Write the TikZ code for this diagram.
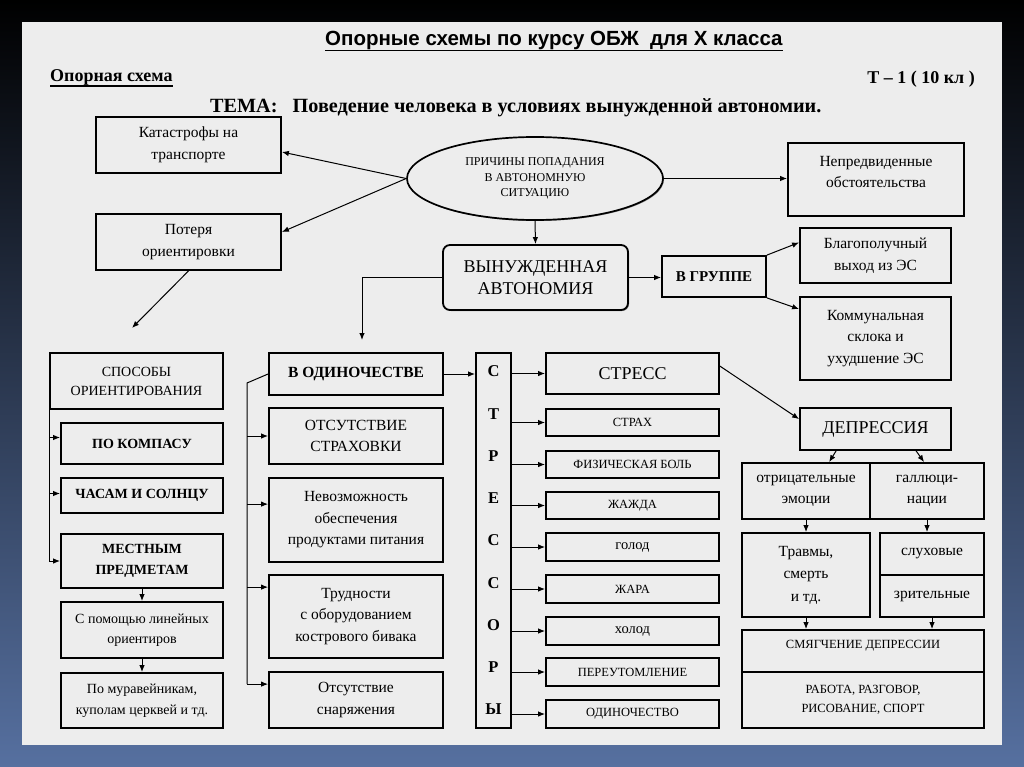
\documentclass[tikz,border=0pt]{standalone}
\usepackage{fontspec}
\setmainfont{Liberation Serif}
\newfontfamily\titlesans{Liberation Sans}
\usetikzlibrary{arrows.meta,calc,shapes.geometric,shadows}
\definecolor{pagecol}{HTML}{EDEDED}
\definecolor{bluebot}{HTML}{5670A0}
\newcommand\bx[7][]{\node[box,#1,minimum width={(#5-#3)*1pt},minimum height={(#6-#4)*1pt}] (#2) at ({(#3+#5)/2},{(#4+#6)/2}) {#7};}
\newcommand\upt[2]{\raisebox{#1}[\height][\depth]{\begin{tabular}{@{}c@{}}#2\end{tabular}}}
\tikzset{
  box/.style={draw, line width=1.8pt, fill=pagecol, align=center, inner sep=0pt,
    drop shadow={shadow xshift=1pt, shadow yshift=-1pt, fill=black, opacity=0.45}},
  arr/.style={line width=1pt, -{Latex[length=7pt,width=5.5pt]}},
  ln/.style={line width=1pt},
  ft/.style={font=\fontsize{15.5}{21.5}\selectfont},
  big/.style={font=\fontsize{18}{22}\selectfont},
  fb/.style={font=\bfseries\fontsize{15}{18}\selectfont},
  fc/.style={font=\fontsize{14}{19}\selectfont},
  fcb/.style={font=\bfseries\fontsize{14}{21}\selectfont},
  fs/.style={font=\fontsize{14}{20.5}\selectfont},
  sm/.style={font=\fontsize{12.5}{19}\selectfont},
  smb/.style={font=\fontsize{14.5}{19}\selectfont},
  stl/.style={font=\bfseries\fontsize{16.5}{42.25}\selectfont},
}
\begin{document}
\begin{tikzpicture}[x=1pt,y=-1pt]
\useasboundingbox (0,0) rectangle (1024,767);
\shade[top color=black, middle color=black, bottom color=bluebot] (0,0) rectangle (1024,767);
\fill[pagecol] (22,22) rectangle (1002,745);

% headings
\node[anchor=base west, inner sep=0, font=\titlesans\bfseries\fontsize{20.5}{24}\selectfont] (title) at (325,46) {Опорные схемы по курсу ОБЖ\ \ для Х класса};
\draw[line width=1.5pt] ($(title.base west)+(0,4.5)$) -- ($(title.base east)+(0,4.5)$);
\node[anchor=base west, inner sep=0, font=\bfseries\fontsize{18}{22}\selectfont] (oporn) at (50,82) {Опорная схема};
\draw[line width=1.3pt] ($(oporn.base west)+(0,4)$) -- ($(oporn.base east)+(0,4)$);
\node[anchor=base east, inner sep=0, font=\bfseries\fontsize{18}{22}\selectfont] (tnum) at (975,84) {Т – 1 ( 10 кл )};
\node[anchor=base west, inner sep=0, font=\bfseries\fontsize{20.2}{24}\selectfont] (tema) at (210,113) {ТЕМА:\hspace{0.75em}Поведение человека в условиях вынужденной автономии.};

% top part
\bx[ft]{kat}{96}{117}{281}{173}{Катастрофы на\\транспорте}
\bx[ft]{pot}{96}{214}{281}{270}{Потеря\\ориентировки}
\node[ellipse, draw, line width=1.7pt, fill=pagecol, minimum width=256pt, minimum height=83pt, inner sep=0pt, align=center,
  drop shadow={shadow xshift=1pt, shadow yshift=-1pt, fill=black, opacity=0.45},
  font=\fontsize{12}{15.5}\selectfont] (prich) at (535,178.5) {ПРИЧИНЫ ПОПАДАНИЯ\\В АВТОНОМНУЮ\\СИТУАЦИЮ};
\bx[ft]{nepr}{788}{143}{964}{216}{\upt{7pt}{Непредвиденные\\обстоятельства}}
\bx[big,rounded corners=7pt]{vyn}{443}{245}{628}{310}{ВЫНУЖДЕННАЯ\\АВТОНОМИЯ}
\bx[fb]{grp}{662}{256}{766}{297}{В ГРУППЕ}
\bx[ft]{blag}{800}{228}{951}{283}{Благополучный\\выход из ЭС}
\bx[ft]{komm}{800}{297}{951}{380}{Коммунальная\\склока и\\ухудшение ЭС}

% left column
\bx[fc]{spos}{50}{353}{223}{409}{СПОСОБЫ\\ОРИЕНТИРОВАНИЯ}
\bx[fcb]{komp}{61}{423}{223}{464}{ПО КОМПАСУ}
\bx[fcb]{chas}{61}{478}{223}{513}{ЧАСАМ И СОЛНЦУ}
\bx[fcb]{mest}{61}{534}{223}{588}{МЕСТНЫМ\\ПРЕДМЕТАМ}
\bx[fs]{lin}{61}{602}{223}{658}{С помощью линейных\\ориентиров}
\bx[fs]{mur}{61}{673}{223}{728}{По муравейникам,\\куполам церквей и тд.}

% second column
\bx[fb,font=\bfseries\fontsize{15.5}{18}\selectfont]{odin}{269}{353}{443}{395}{В ОДИНОЧЕСТВЕ}
\bx[ft]{strah}{269}{408}{443}{464}{ОТСУТСТВИЕ\\СТРАХОВКИ}
\bx[ft]{nevoz}{269}{478}{443}{562}{Невозможность\\обеспечения\\продуктами питания}
\bx[ft]{trud}{269}{575}{443}{658}{Трудности\\с оборудованием\\кострового бивака}
\bx[ft]{snar}{269}{672}{443}{728}{Отсутствие\\снаряжения}

% stressors
\bx[stl]{sts}{476}{353}{511}{728}{С\\Т\\Р\\Е\\С\\С\\О\\Р\\Ы}
\bx[big]{stress}{546}{353}{719}{394}{СТРЕСС}
\bx[sm]{s1}{546}{409}{719}{436}{СТРАХ}
\bx[sm]{s2}{546}{451}{719}{478}{ФИЗИЧЕСКАЯ БОЛЬ}
\bx[sm]{s3}{546}{492}{719}{519}{ЖАЖДА}
\bx[smb]{s4}{546}{533}{719}{561}{голод}
\bx[sm]{s5}{546}{575}{719}{603}{ЖАРА}
\bx[smb]{s6}{546}{617}{719}{645}{холод}
\bx[sm]{s7}{546}{658}{719}{686}{ПЕРЕУТОМЛЕНИЕ}
\bx[sm]{s8}{546}{700}{719}{728}{ОДИНОЧЕСТВО}

% depression
\bx[big]{depr}{800}{408}{951}{450}{ДЕПРЕССИЯ}
\bx[ft]{otr}{742}{463}{870}{519}{отрицательные\\эмоции}
\bx[ft]{gall}{870}{463}{984}{519}{галлюци-\\нации}
\bx[ft,font=\fontsize{15.5}{22.5}\selectfont]{trav}{742}{533}{870}{617}{Травмы,\\смерть\\и тд.}
\bx[ft]{sluh}{880}{533}{984}{575}{слуховые}
\bx[ft]{zrit}{880}{575}{984}{617}{зрительные}
\bx[sm]{smyag}{742}{630}{984}{672}{\upt{6pt}{СМЯГЧЕНИЕ ДЕПРЕССИИ}}
\bx[sm]{rab}{742}{672}{984}{728}{РАБОТА, РАЗГОВОР,\\РИСОВАНИЕ, СПОРТ}

% connectors, top
\draw[arr] (prich.west) -- ($(kat.east)+(0,7)$);
\draw[arr] (prich.west) -- ($(pot.east)+(0,-10)$);
\coordinate (potend) at (132,328);
\draw[arr] (pot.south) -- (potend);
\draw[arr] (prich.east) -- (prich.east -| nepr.west);
\draw[arr] (prich.south) -- (vyn.north);
\coordinate (vynend) at (362,340);
\draw[arr] (vyn.west) -| (vynend);
\draw[arr] (vyn.east) -- (vyn.east -| grp.west);
\draw[arr] (grp.north east) -- ($(blag.west)+(0,-13)$);
\draw[arr] (grp.south east) -- ($(komm.north west)+(0,13)$);

% left column connectors
\coordinate (k1) at ($(komp.west)+(0,-6)$);
\coordinate (k2) at ($(chas.west)+(0,-2)$);
\draw[ln] (spos.south west) -- (spos.south west |- mest.west);
\draw[arr] (spos.south west |- k1) -- (k1);
\draw[arr] (spos.south west |- k2) -- (k2);
\draw[arr] (spos.south west |- mest.west) -- (mest.west);
\draw[arr] (mest.south) -- (lin.north);
\draw[arr] (lin.south) -- (mur.north);

% second column connectors
\coordinate (oj) at (247,383);
\coordinate (t1) at (strah.west);
\coordinate (t2) at ($(nevoz.north west)+(0,27)$);
\coordinate (t3) at ($(trud.north west)+(0,13)$);
\coordinate (t4) at ($(snar.north west)+(0,13)$);
\draw[ln] (odin.west) -- (oj) -- (oj |- t4);
\foreach \t in {t1,t2,t3,t4} \draw[arr] (oj |- \t) -- (\t);

% stressors connectors
\draw[arr] (odin.east) -- (odin.east -| sts.west);
\foreach \s in {stress,s1,s2,s3,s4,s5,s6,s7,s8} \draw[arr] (sts.east |- \s.west) -- (\s.west);

% depression connectors
\draw[arr] ($(stress.north east)+(0,14)$) -- ($(depr.north west)+(0,12)$);
\draw[arr] ($(depr.south west)+(37,0)$) -- ($(otr.north west)+(88,0)$);
\draw[arr] ($(depr.south west)+(117,0)$) -- ($(gall.north west)+(55,0)$);
\draw[arr] (otr.south) -- (trav.north);
\draw[arr] (gall.south) -- (gall.south |- sluh.north);
\draw[arr] (trav.south) -- (trav.south |- smyag.north);
\draw[arr] (zrit.south) -- (zrit.south |- smyag.north);
\end{tikzpicture}
\end{document}
